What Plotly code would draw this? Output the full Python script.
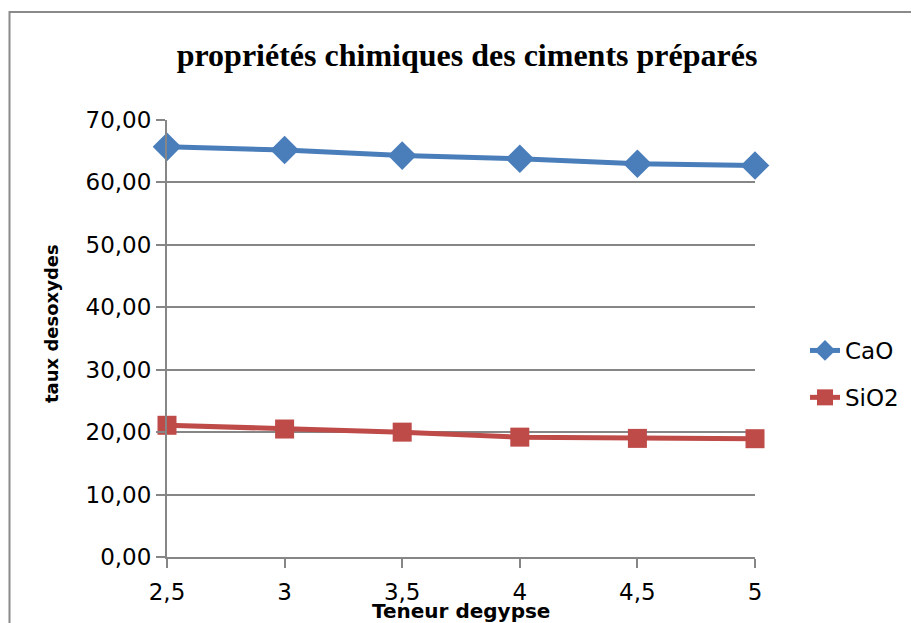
import plotly.graph_objects as go

x_values = [2.5, 3, 3.5, 4, 4.5, 5]
x_labels = ["2,5", "3", "3,5", "4", "4,5", "5"]
cao = [65.7, 65.2, 64.3, 63.8, 63.0, 62.7]
sio2 = [21.1, 20.5, 20.0, 19.2, 19.0, 18.95]

OFF = 8  # page body margin
W, H = 919 - OFF, 623 - OFF
L, T = 167 - OFF, 120 - OFF
pw, ph = 588, 437
R, B = W - L - pw, H - T - ph

def px(x):
    return (x - OFF - L) / pw

def py(y):
    return (T + ph - (y - OFF)) / ph

fig = go.Figure()
fig.add_trace(go.Scatter(
    x=x_values, y=cao, name="CaO", mode="lines+markers",
    line=dict(color="#4a7ebb", width=5),
    marker=dict(symbol="diamond", size=22, color="#4a7ebb"),
    cliponaxis=False, legendgroup="a"))
fig.add_trace(go.Scatter(
    x=x_values, y=sio2, name="SiO2", mode="lines+markers",
    line=dict(color="#be4b48", width=5),
    marker=dict(symbol="square", size=19, color="#be4b48"),
    cliponaxis=False, legendgroup="b"))

tickfont = dict(family="DejaVu Sans", size=23, color="#000")
fig.update_layout(
    width=W, height=H,
    margin=dict(l=L, r=R, t=T, b=B),
    paper_bgcolor="white", plot_bgcolor="white",
    separators=",.",
    title=dict(text="<b>propriétés chimiques des ciments préparés</b>",
               font=dict(family="Liberation Serif", size=32, color="#000"),
               x=px(467), xanchor="center", xref="paper",
               y=1 - (55 - OFF) / H, yanchor="middle"),
    showlegend=True,
    legend=dict(x=px(805), y=py(374), xanchor="left", yanchor="middle",
                font=dict(family="DejaVu Sans", size=23, color="#000"),
                tracegroupgap=14, bgcolor="rgba(0,0,0,0)"),
    xaxis=dict(range=[2.5, 5], tickvals=x_values, ticktext=x_labels,
               showgrid=False, zeroline=False, showline=True,
               linecolor="#868686", linewidth=2, ticks="outside",
               ticklen=9, tickwidth=2, tickcolor="#868686",
               ticklabelstandoff=4, tickfont=tickfont),
    yaxis=dict(range=[0, 70], dtick=10, tickformat=".2f",
               showgrid=True, gridcolor="#868686", gridwidth=2,
               zeroline=False, showline=True, linecolor="#868686",
               linewidth=2, ticks="outside", ticklen=9, tickwidth=2,
               tickcolor="#868686", tickfont=tickfont),
    annotations=[
        dict(text="<b>Teneur degypse</b>", xref="paper", yref="paper",
             x=px(461), y=py(611), xanchor="center", yanchor="middle",
             showarrow=False,
             font=dict(family="DejaVu Sans", size=20, color="#000")),
        dict(text="<b>taux desoxydes</b>", xref="paper", yref="paper",
             x=px(51), y=py(324), xanchor="center", yanchor="middle",
             textangle=-90, showarrow=False,
             font=dict(family="DejaVu Sans", size=18, color="#000")),
    ],
    shapes=[dict(type="rect", xref="paper", yref="paper",
                 x0=px(9.5), x1=px(930), y0=py(640), y1=py(12),
                 line=dict(color="#8a8a8a", width=2), layer="below")],
)

fig.write_html("out.html")
